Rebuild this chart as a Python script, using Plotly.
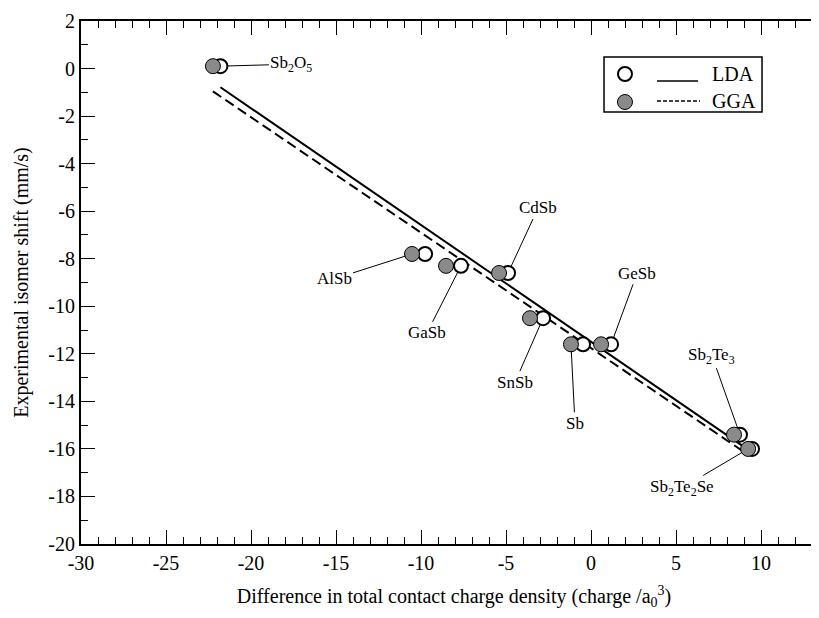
import numpy as np
import plotly.graph_objects as go

# ---------------- data ----------------
compounds = ["Sb<sub>2</sub>O<sub>5</sub>", "AlSb", "GaSb", "CdSb", "SnSb", "Sb", "GeSb",
             "Sb<sub>2</sub>Te<sub>3</sub>", "Sb<sub>2</sub>Te<sub>2</sub>Se"]
isomer_shift = [0.1, -7.8, -8.3, -8.6, -10.5, -11.6, -11.6, -15.4, -16.0]
lda_density = [-21.8, -9.76, -7.65, -4.88, -2.82, -0.47, 1.18, 8.76, 9.47]
gga_density = [-22.24, -10.53, -8.53, -5.41, -3.59, -1.18, 0.59, 8.41, 9.24]

x_tickvals = [-30, -25, -20, -15, -10, -5, 0, 5, 10]
x_ticktext = ["-30", "-25", "-20", "-15", "-10", "-5", "0", "5", "10"]
y_tickvals = [-20, -18, -16, -14, -12, -10, -8, -6, -4, -2, 0, 2]
y_ticktext = ["-20", "-18", "-16", "-14", "-12", "-10", "-8", "-6", "-4", "-2", "0", "2"]

# label placement: which series the leader points at, and text offset in pixels
label_target = ["lda", "gga", "lda", "lda", "lda", "gga", "lda", "lda", "gga"]
label_ax = [71, -78, -34, 30, -28, 4, 26, -28, -66]
label_ay = [-2, 25, 67, -65, 64, 79, -71, -79, 39]

FONT = "Liberation Serif"

fig = go.Figure()

# linear fits
for xs, dash in [(lda_density, "solid"), (gga_density, "10px,5px")]:
    xa = np.array(xs)
    ya = np.array(isomer_shift)
    k, b = np.polyfit(xa, ya, 1)
    xl = np.array([xa.min(), xa.max()])
    fig.add_trace(go.Scatter(x=xl, y=k * xl + b, mode="lines",
                             line=dict(color="black", width=2, dash=dash),
                             showlegend=False, hoverinfo="skip"))

fig.add_trace(go.Scatter(x=lda_density, y=isomer_shift, mode="markers", name="LDA",
                         marker=dict(symbol="circle", size=14, color="white",
                                     line=dict(color="black", width=2)),
                         showlegend=False))
fig.add_trace(go.Scatter(x=gga_density, y=isomer_shift, mode="markers", name="GGA",
                         marker=dict(symbol="circle", size=15, color="#8a8a8a",
                                     line=dict(color="black", width=1)),
                         showlegend=False))

# labels with leader lines
for i, name in enumerate(compounds):
    xs = lda_density if label_target[i] == "lda" else gga_density
    fig.add_annotation(x=xs[i], y=isomer_shift[i], text=name, showarrow=True,
                       arrowhead=0, arrowwidth=1, arrowcolor="black",
                       ax=label_ax[i], ay=label_ay[i], standoff=7,
                       font=dict(family=FONT, size=17, color="black"))

# ---- custom legend (paper coordinates) ----
shapes = []
shapes.append(dict(type="rect", xref="paper", yref="paper", x0=0.7011, x1=0.9129,
                   y0=0.826, y1=0.931, line=dict(color="black", width=1.5),
                   fillcolor="white", layer="above"))
shapes.append(dict(type="circle", xref="paper", yref="paper", xsizemode="pixel",
                   ysizemode="pixel", xanchor=0.7292, yanchor=0.8987,
                   x0=-7, x1=7, y0=-7, y1=7, line=dict(color="black", width=2),
                   fillcolor="white", layer="above"))
shapes.append(dict(type="circle", xref="paper", yref="paper", xsizemode="pixel",
                   ysizemode="pixel", xanchor=0.7292, yanchor=0.8451,
                   x0=-7.5, x1=7.5, y0=-7.5, y1=7.5, line=dict(color="black", width=1),
                   fillcolor="#8a8a8a", layer="above"))
shapes.append(dict(type="line", xref="paper", yref="paper", x0=0.7721, x1=0.8271,
                   y0=0.8853, y1=0.8853, line=dict(color="black", width=1.5), layer="above"))
shapes.append(dict(type="line", xref="paper", yref="paper", x0=0.7721, x1=0.8298,
                   y0=0.8470, y1=0.8470, line=dict(color="black", width=1.5, dash="4px,2px"),
                   layer="above"))
fig.update_layout(shapes=shapes)
fig.add_annotation(xref="paper", yref="paper", x=0.8432, y=0.8987, text="LDA",
                   showarrow=False, xanchor="left", yanchor="middle",
                   font=dict(family=FONT, size=20, color="black"))
fig.add_annotation(xref="paper", yref="paper", x=0.8432, y=0.8470, text="GGA",
                   showarrow=False, xanchor="left", yanchor="middle",
                   font=dict(family=FONT, size=20, color="black"))

fig.update_xaxes(range=[-30, 13.88], tickmode="array", tickvals=x_tickvals, ticktext=x_ticktext,
                 ticks="inside", ticklen=14,
                 tickwidth=1, tickcolor="black", showline=True, linecolor="black",
                 linewidth=2, mirror="ticks", showgrid=False, zeroline=False,
                 minor=dict(ticks="inside", ticklen=7, dtick=1, tick0=0, tickcolor="black",
                            showgrid=False),
                 tickfont=dict(family=FONT, size=20, color="black"),
                 title=dict(text="Difference in total contact charge density (charge /a<sub>0</sub><sup>3</sup>)",
                            font=dict(family=FONT, size=20, color="black"), standoff=16))
fig.update_yaxes(range=[-20, 2], tickmode="array", tickvals=y_tickvals, ticktext=y_ticktext,
                 ticks="inside", ticklen=14,
                 tickwidth=1, tickcolor="black", showline=True, linecolor="black",
                 linewidth=2, mirror=False, showgrid=False, zeroline=False,
                 minor=dict(ticks="inside", ticklen=7, dtick=1, tick0=0, tickcolor="black",
                            showgrid=False),
                 tickfont=dict(family=FONT, size=20, color="black"),
                 title=dict(text="Experimental isomer shift (mm/s)",
                            font=dict(family=FONT, size=20, color="black"), standoff=14))

fig.update_layout(width=819, height=618, margin=dict(l=73, r=0, t=13, b=82, autoexpand=False),
                  paper_bgcolor="white", plot_bgcolor="white", showlegend=False,
                  font=dict(family=FONT, color="black"))

fig.write_html("out.html")
